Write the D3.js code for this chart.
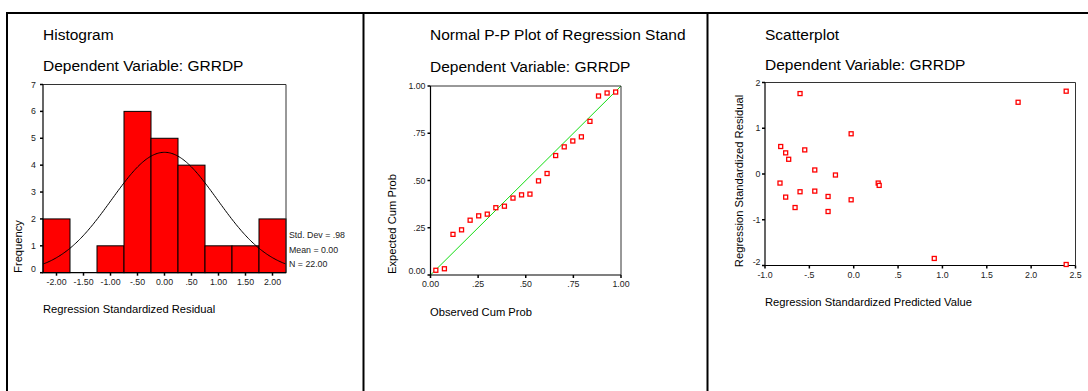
<!DOCTYPE html>
<html>
<head>
<meta charset="utf-8">
<script src="https://cdn.jsdelivr.net/npm/d3@7/dist/d3.min.js"></script>
<style>
  html, body { margin: 0; padding: 0; background: #fff; }
  svg { display: block; font-family: Arial, "Liberation Sans", sans-serif; }
</style>
</head>
<body>
<svg id="chart" width="1088" height="391"></svg>
<script>
// ---- Histogram of standardized residuals ----
const histBinCenters = [-2.0, -1.5, -1.0, -0.5, 0.0, 0.5, 1.0, 1.5, 2.0];
const histCounts     = [2, 0, 1, 6, 5, 4, 1, 1, 2];
const histBinWidth   = 0.5;
const histXTickLabels = ["-2.00", "-1.50", "-1.00", "-.50", "0.00", ".50", "1.00", "1.50", "2.00"];
const histYTicks     = [0, 1, 2, 3, 4, 5, 6, 7];
const residStdDev    = 0.98;
const residMean      = 0.00;
const residN         = 22;
const histStatsText  = ["Std. Dev = .98", "Mean = 0.00", "N = 22.00"];

// ---- Normal P-P plot ----
const ppObserved = [0.028, 0.073, 0.118, 0.163, 0.208, 0.253, 0.298, 0.343, 0.388, 0.433, 0.478,
                    0.522, 0.567, 0.612, 0.657, 0.702, 0.747, 0.792, 0.837, 0.882, 0.927, 0.972];
const ppExpected = [0.025, 0.033, 0.215, 0.239, 0.290, 0.313, 0.322, 0.356, 0.364, 0.407, 0.424,
                    0.428, 0.498, 0.537, 0.632, 0.678, 0.709, 0.731, 0.813, 0.947, 0.963, 0.968];
const ppTicks      = [0, 0.25, 0.5, 0.75, 1];
const ppTickLabels = ["0.00", ".25", ".50", ".75", "1.00"];

// ---- Residuals vs predicted scatterplot ----
const scPredicted = [-0.605, 1.853, 2.395, -0.029, -0.823, -0.767, -0.552, -0.733, -0.439, -0.206, -0.831,
                     -0.605, -0.439, 0.276, 0.287, -0.767, -0.289, -0.029, -0.661, -0.289, 0.908, 2.395];
const scResidual  = [1.758, 1.568, 1.810, 0.879, 0.601, 0.462, 0.527, 0.322, 0.088, -0.022, -0.198,
                     -0.388, -0.374, -0.198, -0.249, -0.505, -0.491, -0.564, -0.733, -0.820, -1.846, -1.978];
const scXTicks      = [-1.0, -0.5, 0.0, 0.5, 1.0, 1.5, 2.0, 2.5];
const scXTickLabels = ["-1.0", "-.5", "0.0", ".5", "1.0", "1.5", "2.0", "2.5"];
const scYTicks      = [2, 1, 0, -1, -2];
const scYTickLabels = ["2", "1", "0", "-1", "-2"];

const svg = d3.select("#chart");
const RED = "#ff0000";

// Outer frame: top rule and panel dividers
svg.append("line").attr("x1", 6).attr("x2", 1088).attr("y1", 13).attr("y2", 13)
  .attr("stroke", "#000").attr("stroke-width", 2);
[7, 363.5, 707.5].forEach(x => {
  svg.append("line").attr("x1", x).attr("x2", x).attr("y1", 12).attr("y2", 391)
    .attr("stroke", "#000").attr("stroke-width", 2);
});

function titles(x, b1, b2, t1) {
  svg.append("text").attr("x", x).attr("y", b1).attr("font-size", 15.5).attr("fill", "#000").text(t1);
  svg.append("text").attr("x", x).attr("y", b2).attr("font-size", 15.5).attr("fill", "#000").text("Dependent Variable: GRRDP");
}

function frame(x0, x1, y0, y1) {
  // top & right frame lines
  svg.append("path").attr("d", `M${x0},${y0}H${x1}V${y1}`)
    .attr("fill", "none").attr("stroke", "#333").attr("stroke-width", 1);
  // left & bottom axis lines
  svg.append("path").attr("d", `M${x0},${y0}V${y1}H${x1}`)
    .attr("fill", "none").attr("stroke", "#000").attr("stroke-width", 1.2);
}

function yLabels(scale, ticks, labels, x0, y1, labelX) {
  const g = svg.append("g");
  ticks.forEach((t, i) => {
    const y = scale(t);
    g.append("line").attr("x1", x0 - 3).attr("x2", x0).attr("y1", y).attr("y2", y)
      .attr("stroke", "#000").attr("stroke-width", 1.5);
    const ly = Math.min(y, y1 - 4);
    g.append("text").attr("x", labelX).attr("y", ly).attr("text-anchor", "end")
      .attr("dominant-baseline", "central").attr("font-size", 8.8).attr("fill", "#222").text(labels[i]);
  });
}

function xLabels(scale, ticks, labels, y1) {
  const g = svg.append("g");
  ticks.forEach((t, i) => {
    const x = scale(t);
    g.append("line").attr("x1", x).attr("x2", x).attr("y1", y1).attr("y2", y1 + 3)
      .attr("stroke", "#000").attr("stroke-width", 1.5);
    g.append("text").attr("x", x).attr("y", y1 + 9).attr("text-anchor", "middle")
      .attr("dominant-baseline", "central").attr("font-size", 8.8).attr("fill", "#222").text(labels[i]);
  });
}

function yTitle(text, cx, cy) {
  svg.append("text").attr("transform", `translate(${cx},${cy}) rotate(-90)`)
    .attr("text-anchor", "middle").attr("dominant-baseline", "central")
    .attr("font-size", 11.2).attr("fill", "#000").text(text);
}

function xTitle(text, x, y) {
  svg.append("text").attr("x", x).attr("y", y).attr("font-size", 11.2).attr("fill", "#000").text(text);
}

function markers(data, x, y) {
  svg.append("g").selectAll("rect")
    .data(data)
    .join("rect")
    .attr("x", d => x(d[0]) - 2).attr("y", d => y(d[1]) - 2)
    .attr("width", 4).attr("height", 4)
    .attr("fill", "#fff").attr("stroke", RED).attr("stroke-width", 1.3);
}

// ===== Panel 1: Histogram =====
(function () {
  const x0 = 43, x1 = 286, y0 = 84.5, y1 = 272.7;
  const lo = histBinCenters[0] - histBinWidth / 2;
  const hi = histBinCenters[histBinCenters.length - 1] + histBinWidth / 2;
  const x = d3.scaleLinear().domain([lo, hi]).range([x0, x1]);
  const y = d3.scaleLinear().domain([0, 7]).range([y1, y0]);

  titles(43, 39.5, 71, "Histogram");

  svg.append("g").selectAll("rect")
    .data(histBinCenters.map((c, i) => ({ c, n: histCounts[i] })).filter(d => d.n > 0))
    .join("rect")
    .attr("x", d => x(d.c - histBinWidth / 2))
    .attr("width", d => x(d.c + histBinWidth / 2) - x(d.c - histBinWidth / 2))
    .attr("y", d => y(d.n))
    .attr("height", d => y(0) - y(d.n))
    .attr("fill", RED).attr("stroke", "#000").attr("stroke-width", 1);

  // fitted normal curve from the stated mean / std. dev / N
  const k = residN * histBinWidth / (residStdDev * Math.sqrt(2 * Math.PI));
  const pts = d3.range(0, 201).map(i => {
    const v = lo + (hi - lo) * i / 200;
    return [v, k * Math.exp(-0.5 * ((v - residMean) / residStdDev) ** 2)];
  });
  svg.append("path").datum(pts)
    .attr("d", d3.line().x(d => x(d[0])).y(d => y(d[1])).curve(d3.curveBasis))
    .attr("fill", "none").attr("stroke", "#000").attr("stroke-width", 1);

  frame(x0, x1, y0, y1);
  yLabels(y, histYTicks, histYTicks.map(String), x0, y1, 36);
  xLabels(x, histBinCenters, histXTickLabels, y1);

  histStatsText.forEach((t, i) => {
    svg.append("text").attr("x", 289).attr("y", 235 + i * 14.7)
      .attr("dominant-baseline", "central").attr("font-size", 8.8).attr("fill", "#222").text(t);
  });

  yTitle("Frequency", 18, 246.5);
  xTitle("Regression Standardized Residual", 43, 313);
})();

// ===== Panel 2: Normal P-P plot =====
(function () {
  const x0 = 430.5, x1 = 621, y0 = 86, y1 = 275;
  const x = d3.scaleLinear().domain([0, 1]).range([x0, x1]);
  const y = d3.scaleLinear().domain([0, 1]).range([y1, y0]);

  titles(430, 40, 72, "Normal P-P Plot of Regression Stand");

  svg.append("line").attr("x1", x(0)).attr("y1", y(0)).attr("x2", x(1)).attr("y2", y(1))
    .attr("stroke", "#11dd11").attr("stroke-width", 1);

  frame(x0, x1, y0, y1);
  yLabels(y, ppTicks, ppTickLabels, x0, y1, 425.5);
  xLabels(x, ppTicks, ppTickLabels, y1);

  markers(ppObserved.map((o, i) => [o, ppExpected[i]]), x, y);

  yTitle("Expected Cum Prob", 392, 224);
  xTitle("Observed Cum Prob", 430, 316);
})();

// ===== Panel 3: Scatterplot =====
(function () {
  const x0 = 765, x1 = 1075.5, y0 = 82.5, y1 = 265.5;
  const x = d3.scaleLinear().domain([-1, 2.5]).range([x0, x1]);
  const y = d3.scaleLinear().domain([-2, 2]).range([y1, y0]);

  titles(765, 39.5, 70, "Scatterplot");

  frame(x0, x1, y0, y1);
  yLabels(y, scYTicks, scYTickLabels, x0, y1, 760.5);
  xLabels(x, scXTicks, scXTickLabels, y1);

  markers(scPredicted.map((p, i) => [p, scResidual[i]]), x, y);

  yTitle("Regression Standardized Residual", 738.5, 181);
  xTitle("Regression Standardized Predicted Value", 765, 306);
})();
</script>
</body>
</html>
